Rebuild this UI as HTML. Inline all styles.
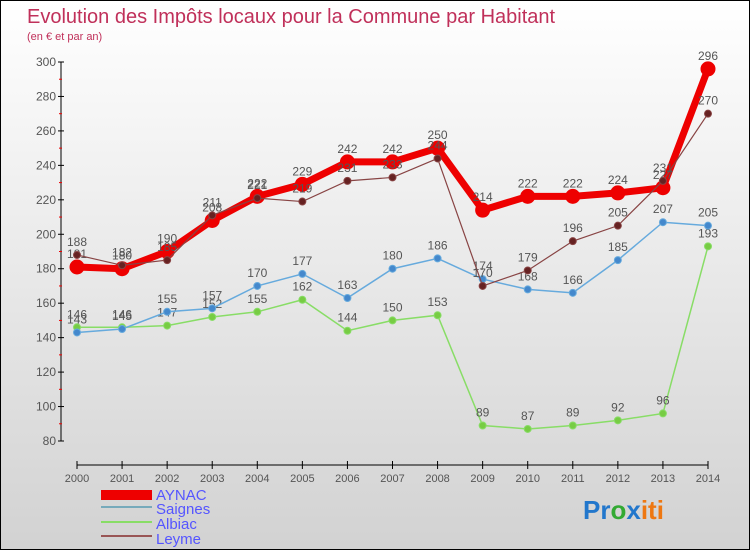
<!DOCTYPE html>
<html><head><meta charset="utf-8"><style>
body{margin:0}
#wrap{width:748px;height:548px;border:1px solid #000;background:linear-gradient(#fff,#d2d2d2);position:relative;font-family:"Liberation Sans","DejaVu Sans",sans-serif;overflow:hidden}
svg{position:absolute;left:0;top:0}
</style></head><body>
<div id="wrap">
<svg id="c" width="748" height="548">
<text x="26" y="22" font-size="20" fill="#c0305a">Evolution des Impôts locaux pour la Commune par Habitant</text>
<text x="26" y="39" font-size="11" fill="#c0305a">(en € et par an)</text>
<g id="axes"></g><g id="series"></g>
<g>
<rect x="100" y="489" width="51" height="10" fill="#e00"/>
<text x="155" y="499" font-size="15" fill="#55f">AYNAC</text>
<rect x="100" y="505" width="51" height="2" fill="#7ab"/>
<text x="155" y="513" font-size="15" fill="#55f">Saignes</text>
<rect x="100" y="520" width="51" height="2" fill="#8d6"/>
<text x="155" y="528" font-size="15" fill="#55f">Albiac</text>
<rect x="100" y="534" width="51" height="2" fill="#955"/>
<text x="155" y="543" font-size="15" fill="#55f">Leyme</text>
</g>
<text x="582" y="518" font-size="26" font-weight="bold"><tspan fill="#2277cc">Pr</tspan><tspan fill="#33aa33">o</tspan><tspan fill="#2277cc">x</tspan><tspan fill="#ee7711">iti</tspan></text>
</svg></div>
<script>
const years=[2000,2001,2002,2003,2004,2005,2006,2007,2008,2009,2010,2011,2012,2013,2014];
const yTicks=[80,100,120,140,160,180,200,220,240,260,280,300];
const aynac=[181,180,190,208,222,229,242,242,250,214,222,222,224,227,296];
const saignes=[143,145,155,157,170,177,163,180,186,174,168,166,185,207,205];
const albiac=[146,146,147,152,155,162,144,150,153,89,87,89,92,96,193];
const leyme=[188,182,185,211,221,219,231,233,244,170,179,196,205,231,270];
const NS="http://www.w3.org/2000/svg";
const X=i=>76+i*(631/14), Y=v=>440-(v-80)*(379/220);
function mk(t,a,p){const e=document.createElementNS(NS,t);for(const k in a)e.setAttribute(k,a[k]);p.appendChild(e);return e;}
const ax=document.getElementById('axes');
const yl=mk('line',{x1:60,y1:61,x2:60,y2:440,stroke:'#000'},ax);


yTicks.forEach(v=>{mk('line',{x1:57,x2:63,y1:Y(v),y2:Y(v),stroke:'#000'},ax);
if(v<300)mk('line',{x1:58,x2:61,y1:Y(v+10),y2:Y(v+10),stroke:'#e00'},ax);
const t=mk('text',{x:55,y:Y(v)+4,'font-size':12,fill:'#555','text-anchor':'end'},ax);t.textContent=v;

});
const xl=mk('line',{x1:76,y1:464,x2:707,y2:464,stroke:'#000'},ax);


years.forEach((y,i)=>{mk('line',{x1:X(i),x2:X(i),y1:460,y2:468,stroke:'#000'},ax);
const t=mk('text',{x:X(i),y:481,'font-size':11,fill:'#555','text-anchor':'middle'},ax);t.textContent=y;

});
const sg=document.getElementById('series');
function draw(d,name,col,w,r,fill){const g=mk('g',{},sg);


mk('polyline',{points:d.map((v,i)=>X(i)+','+Y(v)).join(' '),fill:'none',stroke:col,'stroke-width':w},g);
d.forEach((v,i)=>{const c=mk('circle',{cx:X(i),cy:Y(v),r:r,fill:fill,stroke:col},g);


const t=mk('text',{x:X(i),y:Y(v)-9,'font-size':12,fill:'#555','text-anchor':'middle'},g);t.textContent=v;});}
draw(albiac,'albiac','#8d6',1.5,3.5,'#7c4');
draw(saignes,'saignes','#6ad',1.5,3.5,'#48c');
draw(aynac,'aynac','#e00',7,7,'#e00');
draw(leyme,'leyme','#844',1.2,3.5,'#622');
</script></body></html>
